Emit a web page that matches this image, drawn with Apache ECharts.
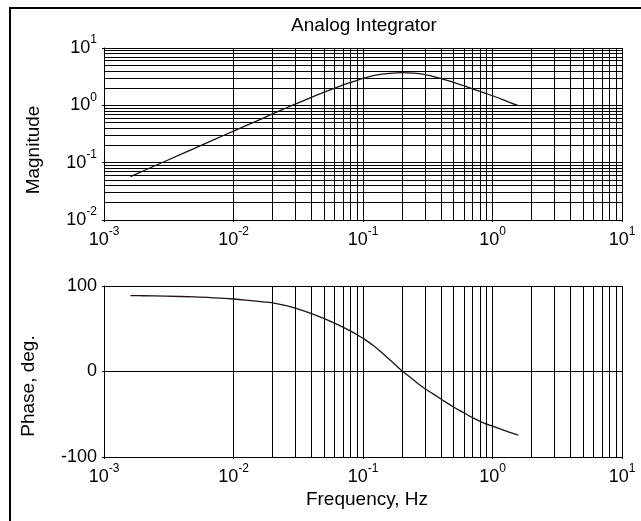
<!DOCTYPE html>
<html><head><meta charset="utf-8">
<script src="https://cdn.jsdelivr.net/npm/echarts@6/dist/echarts.min.js"></script>
<style>html,body{margin:0;padding:0;background:#fff}#c{width:641px;height:521px}</style>
</head><body><div id="c"></div>
<script>
const chartTitle = 'Analog Integrator';
const magName = 'Magnitude';
const phaseName = 'Phase, deg.';
const freqName = 'Frequency, Hz';

// frequency samples (Hz)
const freq = [0.0016, 0.002, 0.003, 0.005, 0.007, 0.01, 0.013, 0.017, 0.021, 0.026, 0.033, 0.04, 0.047, 0.055, 0.065, 0.077, 0.09, 0.1, 0.12, 0.14, 0.17, 0.2, 0.24, 0.29, 0.35, 0.42, 0.5, 0.6, 0.7, 0.85, 1.0, 1.2, 1.4, 1.58];
const magnitude = [0.057, 0.0715, 0.107, 0.178, 0.25, 0.355, 0.46, 0.6, 0.744, 0.917, 1.15, 1.38, 1.6, 1.84, 2.12, 2.43, 2.73, 2.95, 3.3, 3.5, 3.65, 3.71, 3.66, 3.5, 3.16, 2.85, 2.52, 2.2, 1.94, 1.67, 1.47, 1.26, 1.09, 0.99];
const phase = [88.8, 88.6, 88.1, 87.2, 86.2, 84.8, 83.3, 81.5, 79.8, 76.8, 72, 67.8, 63.6, 59.2, 54.2, 48.6, 43, 38.8, 30.5, 22, 10.5, 0.8, -8.7, -18.5, -26.5, -34.4, -41.5, -48.3, -54, -60, -64, -68.3, -71.7, -74.3];

// axis ticks
const freqDecades = [-3, -2, -1, 0, 1];
const magDecades = [-2, -1, 0, 1];
const phaseTicks = [-100, 0, 100];
const minorMult = [2, 3, 4, 5, 6, 7, 8, 9];

const FONT = '"Liberation Sans", Arial, Helvetica, sans-serif';
const INK = '#000';
const CURVE = '#201212';

function minorList(decs) {
  const out = [];
  for (let i = 0; i < decs.length - 1; i++) {
    for (const m of minorMult) out.push(m * Math.pow(10, decs[i]));
  }
  return out;
}
const xMinor = minorList(freqDecades);
const yMinor = minorList(magDecades);

function pow10Label(v) {
  const e = Math.round(Math.log10(v));
  return '{b|10}{s|' + e + '}';
}
const rich = {
  b: { fontSize: 18, fontFamily: FONT, color: INK, lineHeight: 28 },
  s: { fontSize: 12, fontFamily: FONT, color: INK, lineHeight: 10, verticalAlign: 'top' }
};

function logX(gi) {
  return {
    type: 'log', logBase: 10, gridIndex: gi,
    min: Math.pow(10, freqDecades[0]), max: Math.pow(10, freqDecades[freqDecades.length - 1]),
    axisLine: { show: true, onZero: false, lineStyle: { color: INK, width: 1 } },
    axisTick: { show: true, length: 2, lineStyle: { color: INK } },
    axisLabel: { formatter: pow10Label, rich: rich, margin: 6, showMinLabel: true, showMaxLabel: true },
    splitLine: { show: true, lineStyle: { color: INK, width: 1 } },
    minorTick: { show: false }, minorSplitLine: { show: false }
  };
}

function gridSeries(xi, yi, xs, ys) {
  return {
    type: 'line', xAxisIndex: xi, yAxisIndex: yi, data: [], silent: true, z: 1,
    markLine: {
      silent: true, z: 1, animation: false, symbol: ['none', 'none'],
      label: { show: false }, emphasis: { disabled: true },
      lineStyle: { color: INK, width: 1, type: 'solid' },
      data: xs.map(v => ({ xAxis: v })).concat(ys.map(v => ({ yAxis: v })))
    }
  };
}

const chart = echarts.init(document.getElementById('c'), null, { renderer: 'canvas' });
chart.setOption({
  animation: false,
  backgroundColor: '#fff',
  title: {
    text: chartTitle, left: 364, top: 16, padding: 0, textAlign: 'center',
    textStyle: { fontSize: 19, fontWeight: 'normal', fontFamily: FONT, color: INK }
  },
  grid: [
    { left: 104, top: 48, width: 518, height: 172 },
    { left: 104, top: 286, width: 518, height: 171 }
  ],
  xAxis: [logX(0), logX(1)],
  yAxis: [
    {
      type: 'log', logBase: 10, gridIndex: 0,
      min: Math.pow(10, magDecades[0]), max: Math.pow(10, magDecades[magDecades.length - 1]),
      axisLine: { show: true, lineStyle: { color: INK, width: 1 } },
      axisTick: { show: true, length: 2, lineStyle: { color: INK } },
      axisLabel: { formatter: pow10Label, rich: rich, margin: 7, showMinLabel: true, showMaxLabel: true },
      splitLine: { show: true, lineStyle: { color: INK, width: 1 } },
      minorTick: { show: false }, minorSplitLine: { show: false }
    },
    {
      type: 'value', gridIndex: 1,
      min: phaseTicks[0], max: phaseTicks[phaseTicks.length - 1], interval: 100,
      axisLine: { show: true, onZero: false, lineStyle: { color: INK, width: 1 } },
      axisTick: { show: true, length: 2, lineStyle: { color: INK } },
      axisLabel: { fontSize: 18, fontFamily: FONT, color: INK, margin: 7 },
      splitLine: { show: true, lineStyle: { color: INK, width: 1 } }
    }
  ],
  series: [
    gridSeries(0, 0, xMinor, yMinor),
    gridSeries(1, 1, xMinor, []),
    {
      name: magName, type: 'line', xAxisIndex: 0, yAxisIndex: 0, z: 10,
      data: freq.map((f, i) => [f, magnitude[i]]),
      showSymbol: false, smooth: 0.4, silent: true,
      lineStyle: { color: CURVE, width: 1.3 }
    },
    {
      name: phaseName, type: 'line', xAxisIndex: 1, yAxisIndex: 1, z: 10,
      data: freq.map((f, i) => [f, phase[i]]),
      showSymbol: false, smooth: 0.4, silent: true,
      lineStyle: { color: CURVE, width: 1.3 }
    }
  ],
  graphic: [
    { type: 'rect', silent: true, z: 100, shape: { x: 10, y: 8, width: 700, height: 600 },
      style: { fill: 'none', stroke: INK, lineWidth: 2 } },
    { type: 'text', x: 34, y: 150, rotation: Math.PI / 2, silent: true,
      style: { text: magName, font: '19px ' + FONT, fill: INK, align: 'center', verticalAlign: 'middle', textAlign: 'center', textVerticalAlign: 'middle' } },
    { type: 'text', x: 29, y: 386, rotation: Math.PI / 2, silent: true,
      style: { text: phaseName, font: '19px ' + FONT, fill: INK, align: 'center', verticalAlign: 'middle', textAlign: 'center', textVerticalAlign: 'middle' } },
    { type: 'text', x: 367, y: 500, silent: true,
      style: { text: freqName, font: '19px ' + FONT, fill: INK, align: 'center', verticalAlign: 'middle', textAlign: 'center', textVerticalAlign: 'middle' } }
  ]
});
</script>
</body></html>
